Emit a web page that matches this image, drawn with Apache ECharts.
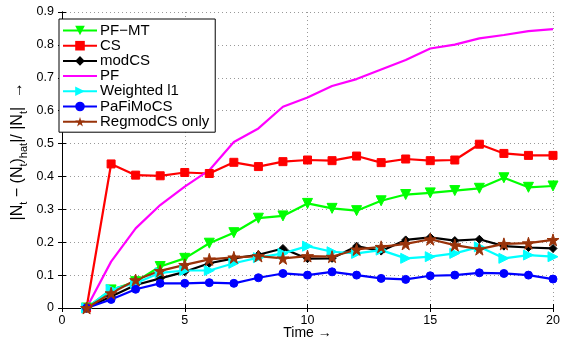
<!DOCTYPE html>
<html>
<head>
<meta charset="utf-8">
<script src="https://cdn.jsdelivr.net/npm/echarts@6/dist/echarts.min.js"></script>
<style>
  html, body { margin: 0; padding: 0; background: #fff; }
  #chart { width: 563px; height: 337px; }
</style>
</head>
<body>
<div id="chart"></div>
<script>
const time = [1, 2, 3, 4, 5, 6, 7, 8, 9, 10, 11, 12, 13, 14, 15, 16, 17, 18, 19, 20];

const pfMt = [0, 0.055, 0.080, 0.126, 0.151, 0.197, 0.229, 0.273, 0.280, 0.318, 0.303, 0.296, 0.326, 0.345, 0.350, 0.357, 0.364, 0.396, 0.367, 0.371];
const cs = [0, 0.438, 0.404, 0.402, 0.412, 0.409, 0.443, 0.430, 0.445, 0.450, 0.448, 0.462, 0.442, 0.453, 0.448, 0.450, 0.498, 0.470, 0.464, 0.464];
const modCs = [0, 0.035, 0.070, 0.090, 0.110, 0.136, 0.151, 0.162, 0.181, 0.150, 0.151, 0.188, 0.173, 0.207, 0.215, 0.205, 0.209, 0.188, 0.184, 0.181];
const pf = [0, 0.141, 0.242, 0.313, 0.369, 0.419, 0.505, 0.546, 0.612, 0.640, 0.675, 0.696, 0.725, 0.754, 0.789, 0.801, 0.820, 0.830, 0.842, 0.848];
const weightedL1 = [0, 0.057, 0.075, 0.107, 0.114, 0.114, 0.136, 0.153, 0.166, 0.188, 0.171, 0.166, 0.176, 0.151, 0.156, 0.166, 0.186, 0.151, 0.161, 0.156];
const paFiMoCs = [0, 0.026, 0.057, 0.075, 0.075, 0.077, 0.075, 0.092, 0.105, 0.100, 0.110, 0.100, 0.090, 0.087, 0.098, 0.100, 0.107, 0.105, 0.100, 0.088];
const regModCs = [0, 0.045, 0.085, 0.113, 0.131, 0.148, 0.154, 0.158, 0.151, 0.158, 0.156, 0.178, 0.186, 0.195, 0.209, 0.191, 0.179, 0.195, 0.197, 0.207];

const xTicks = [0, 5, 10, 15, 20];
const yTicks = [0, 0.1, 0.2, 0.3, 0.4, 0.5, 0.6, 0.7, 0.8, 0.9];

const STAR = 'path://M50,0 L61,35 L98,35 L68,57 L79,91 L50,70 L21,91 L32,57 L2,35 L39,35 Z';
const FONT = 'Liberation Sans, Arial, sans-serif';

const SERIES = [
  { name: 'PF\u2212MT', data: pfMt, color: '#00ff00', symbol: 'triangle', rotate: 180, size: 10 },
  { name: 'CS', data: cs, color: '#ff0000', symbol: 'rect', rotate: 0, size: 8 },
  { name: 'modCS', data: modCs, color: '#000000', symbol: 'diamond', rotate: 0, size: 8 },
  { name: 'PF', data: pf, color: '#ff00ff', symbol: 'none', rotate: 0, size: 0 },
  { name: 'Weighted l1', data: weightedL1, color: '#00ffff', symbol: 'triangle', rotate: -90, size: 10 },
  { name: 'PaFiMoCS', data: paFiMoCs, color: '#0000ff', symbol: 'circle', rotate: 0, size: 8 },
  { name: 'RegmodCS only', data: regModCs, color: '#99330a', symbol: STAR, rotate: 0, size: 12 },
];

const chart = echarts.init(document.getElementById('chart'), null, { renderer: 'canvas' });

const axisCommon = {
  axisLine: { show: true, lineStyle: { color: '#000', width: 1 } },
  axisTick: { show: true, inside: true, length: 4, lineStyle: { color: '#000' } },
};

chart.setOption({
  animation: false,
  grid: { left: 62, right: 10, top: 12, bottom: 29, outerBoundsMode: 'none', containLabel: false },
  legend: {
    orient: 'vertical',
    left: 59,
    top: 19,
    padding: [4, 6, 3, 3],
    itemGap: 0.2,
    itemWidth: 34,
    itemHeight: 12,
    backgroundColor: '#fff',
    borderColor: '#000',
    borderWidth: 1,
    textStyle: { fontFamily: FONT, fontSize: 15, lineHeight: 14, color: '#000', padding: [0, 0, 0, -2] },
    data: SERIES.map((s) => (s.symbol === 'none'
      ? { name: s.name, itemStyle: { color: 'rgba(0,0,0,0)', borderWidth: 0 } }
      : { name: s.name })),
  },
  xAxis: [
    {
      type: 'value', min: 0, max: 20, interval: 5,
      ...axisCommon,
      axisLabel: { color: '#000', fontFamily: FONT, fontSize: 12.5, margin: 6,
        formatter: (v) => (xTicks.includes(v) ? String(v) : '') },
      splitLine: { show: true, lineStyle: { type: [1, 3], color: '#999', width: 1 } },
      name: 'Time \u2192',
      nameLocation: 'middle',
      nameGap: 18,
      nameMoveOverlap: false,
      nameTextStyle: { fontFamily: FONT, fontSize: 14, color: '#000' },
    },
    {
      type: 'value', min: 0, max: 20, interval: 5, position: 'top',
      ...axisCommon, axisLabel: { show: false }, splitLine: { show: false },
    },
  ],
  yAxis: [
    {
      type: 'value', min: 0, max: 0.9, interval: 0.1,
      ...axisCommon,
      axisLabel: { color: '#000', fontFamily: FONT, fontSize: 12.5, margin: 8,
        formatter: (v) => {
          const t = yTicks.find((y) => Math.abs(y - v) < 1e-6);
          return t === undefined ? '' : String(Math.round(t * 10) / 10);
        } },
      splitLine: { show: true, lineStyle: { type: [1, 3], color: '#999', width: 1 } },
    },
    {
      type: 'value', min: 0, max: 0.9, interval: 0.1, position: 'right',
      ...axisCommon, axisLabel: { show: false }, splitLine: { show: false },
    },
  ],
  graphic: [
    {
      type: 'text',
      left: 10,
      top: 82,
      rotation: Math.PI / 2,
      style: {
        text: '{m||N}{s|t}{m| \u2212 (N}{s|t}{m|)}{s|hat}{m||/ |N}{s|t}{m||  \u2192}',
        fontFamily: FONT,
        fill: '#000',
        rich: {
          m: { fontFamily: FONT, fontSize: 16, color: '#000', lineHeight: 22, verticalAlign: 'middle' },
          s: { fontFamily: FONT, fontSize: 11, color: '#000', lineHeight: 22, verticalAlign: 'bottom' },
        },
      },
    },
  ],
  series: SERIES.map((s) => ({
    name: s.name,
    type: 'line',
    xAxisIndex: 0,
    yAxisIndex: 0,
    data: time.map((t, i) => [t, s.data[i]]),
    symbol: s.symbol,
    symbolSize: s.size,
    symbolRotate: s.rotate,
    showSymbol: s.symbol !== 'none',
    lineStyle: { color: s.color, width: 2.2 },
    itemStyle: { color: s.color, borderColor: s.color },
    emphasis: { disabled: true },
  })),
});
</script>
</body>
</html>
